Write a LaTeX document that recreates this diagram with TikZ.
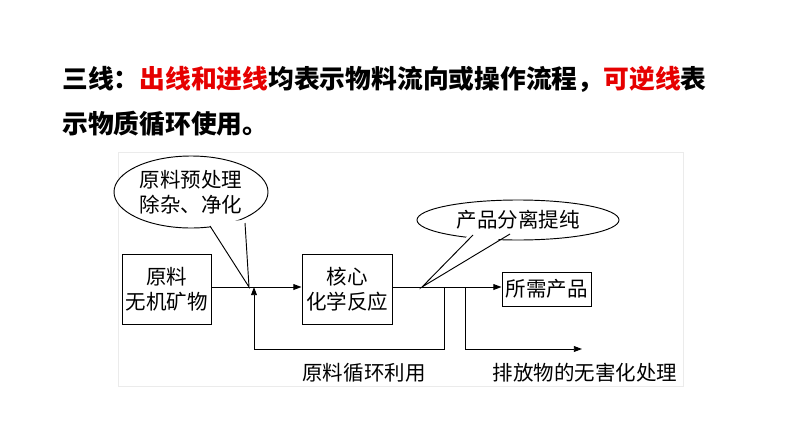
\documentclass[tikz,border=0pt]{standalone}
\usepackage{fontspec}
\setmainfont{Noto Sans CJK SC}
\usetikzlibrary{shapes.geometric,arrows.meta,positioning}
\definecolor{hired}{RGB}{230,0,0}
\tikzset{
  box/.style={rectangle, draw=black, thick, align=center, inner sep=0pt, font=\fontsize{17.5}{21}\selectfont},
  bubble/.style={ellipse, draw=black, thick, fill=white, align=center, inner sep=0pt, font=\fontsize{17.5}{21}\selectfont},
  flow/.style={thick, -{Triangle[length=7pt,width=5pt]}},
  lab/.style={font=\fontsize{17.5}{21}\selectfont, inner sep=0pt}
}
\begin{document}
\begin{tikzpicture}[x=0.03cm,y=-0.03cm]
  \useasboundingbox (0,0) rectangle (794,447);
  \fill[white] (0,0) rectangle (794,447);
  \draw[black!8] (118,152) rectangle (683,386);

  % title
  \node[anchor=west, inner sep=0pt, font=\fontsize{22}{26}\selectfont\bfseries] (title1) at (62,79)
    {三线：\textcolor{hired}{出线和进线}均表示物料流向或操作流程，\textcolor{hired}{可逆线}表};
  \node[anchor=west, inner sep=0pt, font=\fontsize{22}{26}\selectfont\bfseries] (title2) at (62,124)
    {示物质循环使用。};

  % boxes
  \node[box, minimum width=89*0.03cm, minimum height=70*0.03cm] (raw) at (166.5,289) {原料\\无机矿物};
  \node[box, minimum width=90*0.03cm, minimum height=70*0.03cm] (core) at (347,289) {核心\\化学反应};
  \node[box, minimum width=89*0.03cm, minimum height=34*0.03cm] (prod) at (546.5,289) {所需产品};

  % junctions
  \coordinate (tipA) at (249,287);
  \coordinate (recin) at (254,287);
  \coordinate (tipB) at (422,287);
  \coordinate (recout) at (444,287);
  \coordinate (waste) at (465,287);
  \coordinate (wasteend) at (582,349);

  % connectors
  \draw[flow] (raw.east |- tipA) -- (core.west |- tipA);
  \draw[thick] (core.east |- tipB) -- (waste);
  \draw[flow] (waste) -- (prod.west |- waste);
  \draw[flow] (recout) -- (444,349) -- (254,349) -- (recin);
  \draw[flow] (waste) -- (465,349) -- (wasteend);

  % callouts
  \node[bubble, minimum width=154*0.03cm, minimum height=72*0.03cm] (pre) at (191,192) {原料预处理\\除杂、净化};
  \fill[white] (208,222) -- (tipA) -- (247,220) -- cycle;
  \draw[thick] (210,226) -- (tipA) -- (245,223);
  \node[bubble, minimum width=202*0.03cm, minimum height=40*0.03cm] (sep) at (518,220) {产品分离提纯};
  \fill[white] (471,232) -- (tipB) -- (512,231) -- cycle;
  \draw[thick] (473,235) -- (tipB) -- (510,234);

  % labels
  \node[lab] (reclab) at (364,373) {原料循环利用};
  \node[lab] (wastelab) at (585,373) {排放物的无害化处理};
\end{tikzpicture}
\end{document}
